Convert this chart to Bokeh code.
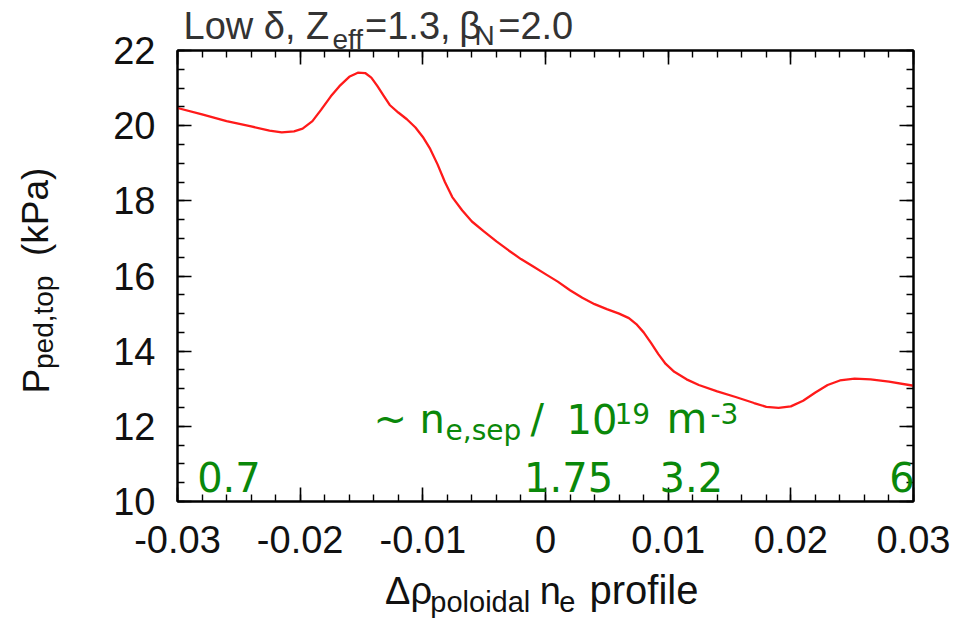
import numpy as np
from bokeh.plotting import figure
from bokeh.models import LinearAxis, FixedTicker, Range1d, ColumnDataSource
from bokeh.core.properties import value, field
from bokeh.embed import file_html
from bokeh.resources import INLINE

# ---------------- data ----------------
delta_rho = [-0.0300, -0.0280, -0.0260, -0.0240, -0.0225, -0.0215, -0.0205, -0.0198,
             -0.0190, -0.0183, -0.0175, -0.0168, -0.0160, -0.0153, -0.0147, -0.0142,
             -0.0137, -0.0132, -0.0127, -0.0120, -0.0113, -0.0106, -0.0100, -0.0094,
             -0.0088, -0.0082, -0.0076, -0.0068, -0.0060, -0.0050, -0.0040, -0.0030,
             -0.0020, -0.0010, 0.0000, 0.0010, 0.0020, 0.0030, 0.0040, 0.0050,
             0.0060, 0.0068, 0.0074, 0.0080, 0.0086, 0.0092, 0.0098, 0.0105,
             0.0115, 0.0125, 0.0140, 0.0155, 0.0170, 0.0180, 0.0190, 0.0200,
             0.0210, 0.0220, 0.0230, 0.0240, 0.0252, 0.0265, 0.0280, 0.0300]
p_ped_top = [20.47, 20.30, 20.12, 19.98, 19.87, 19.82, 19.85, 19.92,
             20.12, 20.42, 20.78, 21.05, 21.30, 21.41, 21.40, 21.28,
             21.05, 20.80, 20.55, 20.35, 20.17, 19.95, 19.70, 19.38,
             18.97, 18.50, 18.10, 17.75, 17.45, 17.18, 16.92, 16.68,
             16.45, 16.25, 16.05, 15.85, 15.62, 15.42, 15.25, 15.12,
             15.00, 14.88, 14.72, 14.50, 14.22, 13.92, 13.66, 13.45,
             13.25, 13.10, 12.93, 12.78, 12.62, 12.52, 12.49, 12.53,
             12.68, 12.90, 13.10, 13.22, 13.27, 13.25, 13.19, 13.08]

x_ticks = [-0.03, -0.02, -0.01, 0.0, 0.01, 0.02, 0.03]
x_tick_labels = ["-0.03", "-0.02", "-0.01", "0", "0.01", "0.02", "0.03"]
y_ticks = [10, 12, 14, 16, 18, 20, 22]
y_tick_labels = ["10", "12", "14", "16", "18", "20", "22"]

ne_sep_values = ["0.7", "1.75", "3.2", "6"]
ne_sep_dx = [-0.0284, -0.00175, 0.0093, 0.0301]

# ---------------- layout ----------------
W, H = 964, 624
FL, FR, FT, FB = 177, 913, 50, 501
X0, X1, Y0, Y1 = -0.03, 0.03, 10.0, 22.0
K_BASE = 0.36  # baseline correction (fraction of font size)

p = figure(width=W, height=H, x_range=Range1d(X0, X1), y_range=Range1d(Y0, Y1),
           output_backend="svg", toolbar_location=None,
           min_border_left=FL, min_border_right=W - FR,
           min_border_top=FT, min_border_bottom=H - FB)
p.background_fill_color = "white"
p.border_fill_color = "white"
p.xgrid.visible = False
p.ygrid.visible = False
p.outline_line_color = "black"
p.outline_line_width = 2

x_minor = [round(v, 4) for v in np.arange(-0.03, 0.0301, 0.002)]
y_minor = [round(v, 2) for v in np.arange(10, 22.01, 0.5)]
x_ticker = FixedTicker(ticks=x_ticks, minor_ticks=x_minor)
y_ticker = FixedTicker(ticks=y_ticks, minor_ticks=y_minor)

SANS = "Liberation Sans"


def style_axis(ax, ticker, ticks, labels, standoff):
    ax.ticker = ticker
    ax.axis_line_color = "black"
    ax.axis_line_width = 2
    ax.major_tick_in = 14
    ax.major_tick_out = 0
    ax.minor_tick_in = 7
    ax.minor_tick_out = 0
    ax.major_tick_line_width = 1.6
    ax.minor_tick_line_width = 1.4
    ax.major_tick_line_color = "black"
    ax.minor_tick_line_color = "black"
    ax.major_label_text_font = SANS
    ax.major_label_text_font_size = "38px"
    ax.major_label_text_color = "#111111"
    ax.major_label_standoff = standoff
    ax.major_label_overrides = dict(zip(ticks, labels))
    ax.axis_label = None


style_axis(p.xaxis[0], x_ticker, x_ticks, x_tick_labels, 24)
style_axis(p.yaxis[0], y_ticker, y_ticks, y_tick_labels, 22)

top_axis = LinearAxis()
style_axis(top_axis, x_ticker, x_ticks, [""] * len(x_ticks), 0)
p.add_layout(top_axis, "above")
right_axis = LinearAxis()
style_axis(right_axis, y_ticker, y_ticks, [""] * len(y_ticks), 0)
p.add_layout(right_axis, "right")

# ---------------- curve ----------------
p.line(delta_rho, p_ped_top, line_color="#ff1a1a", line_width=2.3)


# ---------------- texts ----------------
def px_x(px):
    return X0 + (px - FL) / (FR - FL) * (X1 - X0)


def px_y(py):
    return Y1 - (py - FT) / (FB - FT) * (Y1 - Y0)


def add_texts(pieces, font, color, rotated=False):
    xs, ys = [], []
    for t, px, py, s in pieces:
        if rotated:
            xs.append(px_x(px - K_BASE * s))
            ys.append(px_y(py))
        else:
            xs.append(px_x(px))
            ys.append(px_y(py - K_BASE * s))
    src = ColumnDataSource(dict(x=xs, y=ys, text=[a[0] for a in pieces],
                                size=[f"{a[3]}px" for a in pieces]))
    p.text(x="x", y="y", text="text", source=src, text_font=value(font),
           text_font_size=field("size"), text_color=color, text_align="left",
           text_baseline="alphabetic", angle=np.pi / 2 if rotated else 0.0,
           level="overlay")


TITLE_C = "#333333"
LABEL_C = "#111111"
GREEN = "#0a880a"
GFONT = "DejaVu Sans"

# title: Low δ, Z_eff=1.3, β_N=2.0   (text, x px, baseline px, size px)
add_texts([("Low δ, Z", 183, 39, 38),
           ("eff", 332, 49, 28),
           ("=1.3,", 364.5, 39, 38),
           ("β", 458.7, 39, 38),
           ("N", 474, 45.5, 28),
           ("=2.0", 497.7, 39, 38)], SANS, TITLE_C)

# y axis label: P_ped,top (kPa)
add_texts([("P", 49, 393, 37),
           ("ped,top", 53, 368.5, 28),
           ("(kPa)", 48.5, 255.6, 37)], SANS, LABEL_C, rotated=True)

# x axis label: Δρ_poloidal n_e profile
add_texts([("Δρ", 384.5, 604, 38),
           ("poloidal", 429.8, 612, 29),
           ("n", 539.2, 604, 38),
           ("e", 558.8, 612, 29),
           ("profile", 589, 604, 40)], SANS, LABEL_C)

# green annotation: ~ n_e,sep / 10^19 m^-3
add_texts([("~", 373, 433, 40),
           ("n", 419, 433, 40),
           ("e,sep", 445, 440, 28),
           ("/", 530, 433, 40),
           ("10", 566, 433, 40),
           ("19", 614, 423, 28),
           ("m", 666, 433, 42),
           ("-3", 710, 423, 28)], GFONT, GREEN)

# density values along the bottom
ne_y = px_y(490.7 - K_BASE * 40)
p.text(x=ne_sep_dx[:-1], y=[ne_y] * (len(ne_sep_values) - 1), text=ne_sep_values[:-1],
       text_font=value(GFONT), text_font_size="40px", text_color=GREEN,
       text_align="left", text_baseline="alphabetic", level="overlay")
p.text(x=ne_sep_dx[-1:], y=[ne_y], text=ne_sep_values[-1:],
       text_font=value(GFONT), text_font_size="40px", text_color=GREEN,
       text_align="right", text_baseline="alphabetic", level="overlay")

open("out.html", "w").write(file_html(p, INLINE))
